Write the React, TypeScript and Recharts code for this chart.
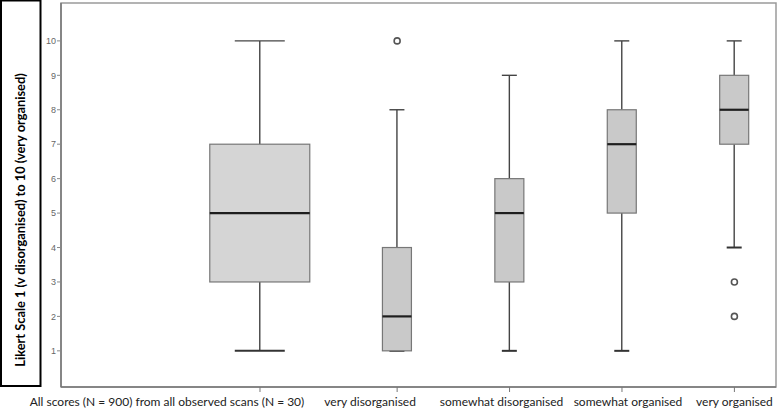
import { Bar, ComposedChart, ReferenceArea, Scatter, XAxis, YAxis } from "recharts";

const categories = [
  "All scores (N = 900) from all observed scans (N = 30)",
  "very disorganised",
  "somewhat disorganised",
  "somewhat organised",
  "very organised",
];
// where each group sits along the x axis (first group is a separate panel in the original)
const categoryPositions = [0, 1.22, 2.22, 3.22, 4.22];
const mins = [1, 1, 1, 1, 4];
const q1s = [3, 1, 3, 5, 7];
const medians = [5, 2, 5, 7, 8];
const q3s = [7, 4, 6, 8, 9];
const maxs = [10, 8, 9, 10, 10];
const outlierGroups = [1, 4, 4];
const outlierValues = [10, 3, 2];
const yTicks = [1, 2, 3, 4, 5, 6, 7, 8, 9, 10];

const X_DOMAIN: [number, number] = [-1.77, 4.59];
const Y_DOMAIN: [number, number] = [-0.05, 11.1];
const labelDx = [-93, -27, -8, 6, 0];
const FONT = "Lato, 'Open Sans', sans-serif";

const boxes = categories.map((name, i) => ({
  name,
  pos: categoryPositions[i],
  min: mins[i],
  q1: q1s[i],
  median: medians[i],
  q3: q3s[i],
  max: maxs[i],
}));

const outliers = outlierGroups.map((g, i) => ({
  pos: categoryPositions[g],
  value: outlierValues[i],
}));

function BoxShape(props: any) {
  const { x, y, width, height, payload, index } = props;
  if (x == null || y == null) return null;
  const top = Math.min(y, y + height);
  const h = Math.abs(height);
  const d = payload as (typeof boxes)[number];
  const py = (v: number) => (d.max === d.min ? top : top + (h * (d.max - v)) / (d.max - d.min));
  const cx = x + width / 2;
  const boxW = index === 0 ? 100 : 29;
  const capW = index === 0 ? 50 : 15;
  const fill = index === 0 ? "#d5d5d5" : "#c9c9c9";
  const yQ1 = py(d.q1);
  const yQ3 = py(d.q3);
  const yMed = py(d.median);
  const yMin = py(d.min);
  const yMax = py(d.max);
  return (
    <g>
      <line x1={cx} x2={cx} y1={yMax} y2={yQ3} stroke="#444" strokeWidth={1.4} />
      <line x1={cx} x2={cx} y1={yQ1} y2={yMin} stroke="#444" strokeWidth={1.4} />
      <line x1={cx - capW / 2} x2={cx + capW / 2} y1={yMax} y2={yMax} stroke="#444" strokeWidth={1.4} />
      <line x1={cx - capW / 2} x2={cx + capW / 2} y1={yMin} y2={yMin} stroke="#333" strokeWidth={2} />
      <rect x={cx - boxW / 2} y={yQ3} width={boxW} height={yQ1 - yQ3} fill={fill} stroke="#777" strokeWidth={1.2} />
      <line x1={cx - boxW / 2} x2={cx + boxW / 2} y1={yMed} y2={yMed} stroke="#1e1e1e" strokeWidth={2.2} />
    </g>
  );
}

function OutlierDot(props: any) {
  const { cx, cy } = props;
  return <circle cx={cx} cy={cy} r={3} fill="#fff" stroke="#555" strokeWidth={1.6} />;
}

function CategoryTick(props: any) {
  const { x, y, payload } = props;
  const i = categoryPositions.indexOf(payload.value);
  if (i < 0) return null;
  return (
    <text
      x={x + labelDx[i]}
      y={y}
      dy={12}
      textAnchor="middle"
      fontFamily={FONT}
      fontSize={12}
      fill="#222"
    >
      {categories[i]}
    </text>
  );
}

function YLabelBox() {
  return (
    <g>
      <rect x={1} y={0.5} width={39.5} height={385.5} fill="none" stroke="#000" strokeWidth={2} />
      <text
        x={0}
        y={0}
        transform="translate(25 220) rotate(-90)"
        textAnchor="middle"
        fontFamily={FONT}
        fontWeight="bold"
        fontSize={12.8}
        fill="#000"
      >
        Likert Scale 1 (v disorganised) to 10 (very organised)
      </text>
    </g>
  );
}

export default function App() {
  return (
    <div style={{ position: "absolute", left: 0, top: 0, width: 778, height: 412, background: "#fff" }}>
      <ComposedChart
        width={778}
        height={412}
        data={boxes}
        margin={{ top: 3, right: 2, bottom: 0, left: 0 }}
      >
        <ReferenceArea
          x1={X_DOMAIN[0]}
          x2={X_DOMAIN[1]}
          y1={Y_DOMAIN[0]}
          y2={Y_DOMAIN[1]}
          fill="none"
          stroke="#9a9a9a"
          strokeWidth={1.5}
          ifOverflow="visible"
        />
        <XAxis
          dataKey="pos"
          type="number"
          domain={X_DOMAIN}
          allowDataOverflow
          ticks={categoryPositions}
          interval={0}
          height={25}
          tick={<CategoryTick />}
          tickSize={5}
          axisLine={{ stroke: "#777", strokeWidth: 1.5 }}
          tickLine={{ stroke: "#777" }}
        />
        <YAxis
          type="number"
          domain={Y_DOMAIN}
          allowDataOverflow
          ticks={yTicks}
          interval={0}
          width={61}
          tickSize={4}
          tickMargin={1}
          tick={{ fontSize: 9, fill: "#666", fontFamily: "'Liberation Sans', Arial, sans-serif" }}
          axisLine={{ stroke: "#777", strokeWidth: 1.5 }}
          tickLine={{ stroke: "#888" }}
          label={{ content: () => <YLabelBox /> }}
        />
        <Bar
          dataKey={(d: any) => [d.min, d.max]}
          barSize={100}
          shape={<BoxShape />}
          isAnimationActive={false}
        />
        <Scatter data={outliers} dataKey="value" shape={<OutlierDot />} isAnimationActive={false} />
      </ComposedChart>
    </div>
  );
}
